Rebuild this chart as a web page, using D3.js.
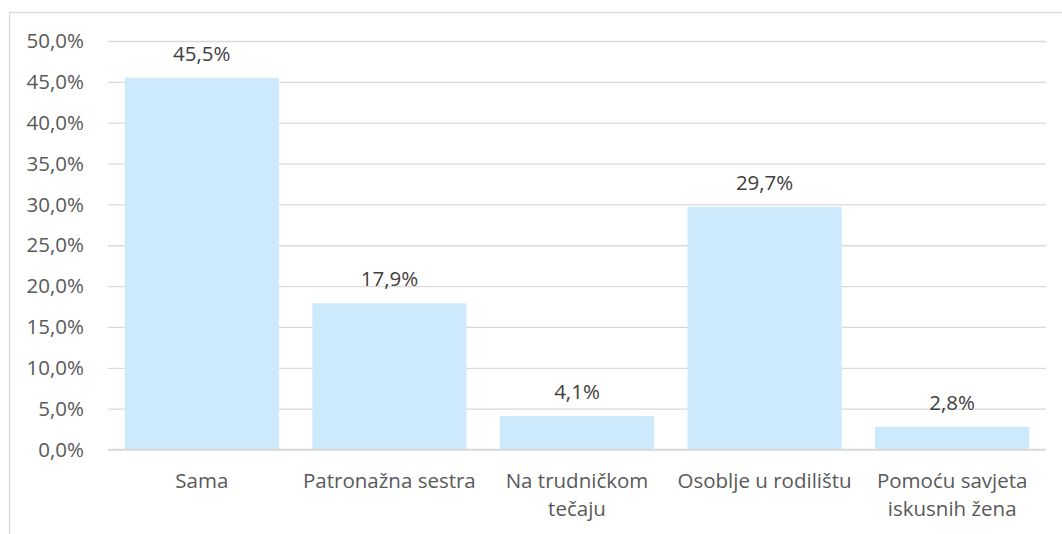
<!DOCTYPE html>
<html lang="hr">
<head>
<meta charset="UTF-8"/>
<script src="https://d3js.org/d3.v7.min.js"></script>
<style>
  body { margin: 0; background: #fff; font-family: 'Open Sans', sans-serif; }
  svg { display: block; }
  .grid line { stroke: #d9d9d9; stroke-width: 1.3; }
  .grid path { stroke-width: 0; }
  .bar { fill: #cceafc; }
  text.tick { font-size: 20.5px; fill: #595959; }
  text.value { font-size: 20.5px; fill: #404040; }
  text.cat { font-size: 20.5px; fill: #595959; }
</style>
</head>
<body>
<svg id="chart" width="1062" height="534"></svg>
<script>
// answers and share of respondents
const categories = ['Sama', 'Patronažna sestra', 'Na trudničkom tečaju', 'Osoblje u rodilištu', 'Pomoću savjeta iskusnih žena'];
const catLines = [['Sama'], ['Patronažna sestra'], ['Na trudničkom', 'tečaju'], ['Osoblje u rodilištu'], ['Pomoću savjeta', 'iskusnih žena']];
const values = [45.5, 17.9, 4.1, 29.7, 2.8];
const yTicks = [0, 5, 10, 15, 20, 25, 30, 35, 40, 45, 50];

const svg = d3.select('#chart');

// outer chart frame (runs off the right and bottom edge)
svg.append('rect')
  .attr('x', 9.5).attr('y', 12.5)
  .attr('width', 1100).attr('height', 600)
  .attr('fill', 'none').attr('stroke', '#d9d9d9').attr('stroke-width', 1.3);

const plotLeft = 108, plotRight = 1046, plotTop = 41, plotBottom = 449.5;

const x = d3.scaleBand()
  .domain(categories)
  .range([plotLeft, plotRight])
  .paddingInner(0.178)
  .paddingOuter(0.089);

const y = d3.scaleLinear()
  .domain([0, 50])
  .range([plotBottom, plotTop]);

const fmt = v => v.toFixed(1).replace('.', ',');

// gridlines
svg.append('g')
  .attr('class', 'grid')
  .attr('transform', `translate(${plotLeft},0)`)
  .call(d3.axisLeft(y).tickValues(yTicks).tickSize(-(plotRight - plotLeft)).tickFormat(''));

// y tick labels
svg.append('g').selectAll('text')
  .data(yTicks)
  .join('text')
  .attr('class', 'tick')
  .attr('x', 84)
  .attr('y', d => y(d))
  .attr('dy', '0.35em')
  .attr('text-anchor', 'end')
  .text(d => fmt(d) + '%');

// bars
svg.append('g').selectAll('rect')
  .data(values)
  .join('rect')
  .attr('class', 'bar')
  .attr('x', (d, i) => x(categories[i]))
  .attr('y', d => y(d))
  .attr('width', x.bandwidth())
  .attr('height', d => y(0) - y(d));

// baseline redrawn over bars
svg.append('line')
  .attr('x1', plotLeft).attr('x2', plotRight)
  .attr('y1', y(0)).attr('y2', y(0))
  .attr('stroke', '#d9d9d9').attr('stroke-width', 1.3);

// value labels
svg.append('g').selectAll('text')
  .data(values)
  .join('text')
  .attr('class', 'value')
  .attr('x', (d, i) => x(categories[i]) + x.bandwidth() / 2)
  .attr('y', d => y(d) - 17)
  .attr('text-anchor', 'middle')
  .text(d => fmt(d) + '%');

// category labels
const cats = svg.append('g').selectAll('text')
  .data(catLines)
  .join('text')
  .attr('class', 'cat')
  .attr('text-anchor', 'middle')
  .attr('y', 488);
cats.each(function (lines, i) {
  const cx = x(categories[i]) + x.bandwidth() / 2;
  d3.select(this).selectAll('tspan')
    .data(lines)
    .join('tspan')
    .attr('x', cx)
    .attr('dy', (l, j) => j === 0 ? 0 : 28)
    .text(l => l);
});
</script>
</body>
</html>
